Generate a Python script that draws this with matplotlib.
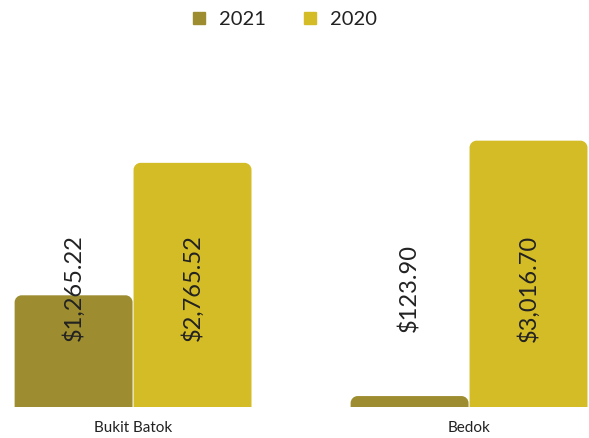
import matplotlib
matplotlib.use("Agg")
import matplotlib.pyplot as plt
from matplotlib.path import Path
from matplotlib.patches import PathPatch
from matplotlib.lines import Line2D
from matplotlib.transforms import blended_transform_factory
import numpy as np

categories = ["Bukit Batok", "Bedok"]
series_names = ["2021", "2020"]
values_2021 = [1265.22, 123.90]
values_2020 = [2765.52, 3016.70]
colors = ["#9d8d30", "#d4bc27"]

plt.rcParams["font.family"] = ["Lato", "DejaVu Sans"]

W, H, DPI = 589, 438, 100
fig = plt.figure(figsize=(W / DPI, H / DPI), dpi=DPI)

# axes fill the figure width; baseline near the bottom
bottom_px, top_px = 407, 98
ax = fig.add_axes([0, (H - bottom_px) / H, 1, (bottom_px - top_px) / H])
ymax = 3500
ax.set_ylim(0, ymax)
ax.set_xlim(-0.396, 1.357)

x = np.arange(len(categories))
bw = 0.351
gap = 0.003
offsets = [-(bw + gap) / 2, (bw + gap) / 2]
series = [values_2021, values_2020]


def rounded_top(x0, w, h, rx, ry):
    ry = min(ry, h)
    k = 0.5523
    verts = [
        (x0, 0), (x0, h - ry),
        (x0, h - ry + k * ry), (x0 + rx - k * rx, h), (x0 + rx, h),
        (x0 + w - rx, h),
        (x0 + w - rx + k * rx, h), (x0 + w, h - ry + k * ry), (x0 + w, h - ry),
        (x0 + w, 0), (x0, 0),
    ]
    codes = [Path.MOVETO, Path.LINETO,
             Path.CURVE4, Path.CURVE4, Path.CURVE4,
             Path.LINETO,
             Path.CURVE4, Path.CURVE4, Path.CURVE4,
             Path.LINETO, Path.CLOSEPOLY]
    return Path(verts, codes)


px_per_x = W / (1.357 + 0.396)
px_per_y = (bottom_px - top_px) / ymax
r_px = 7
rx, ry = r_px / px_per_x, r_px / px_per_y

label_tr = blended_transform_factory(ax.transData, ax.transAxes)
for vals, off, col in zip(series, offsets, colors):
    bars = ax.bar(x + off, vals, width=bw, color=col)
    for b, v in zip(bars, vals):
        b.set_visible(False)
        ax.add_patch(PathPatch(rounded_top(b.get_x(), b.get_width(), v, rx, ry),
                               facecolor=col, edgecolor="none"))
        ax.text(b.get_x() + b.get_width() / 2, 0.385, f"${v:,.2f}",
                transform=label_tr, rotation=90, ha="center", va="center",
                fontsize=17, color="#222222")

ax.set_xticks(x)
ax.set_xticklabels(categories, fontsize=11, color="#222222")
ax.tick_params(axis="x", length=0, pad=10)
ax.set_yticks([])
for s in ax.spines.values():
    s.set_visible(False)

handles = [Line2D([], [], marker="s", linestyle="none", markersize=8,
                  markerfacecolor=c, markeredgecolor=c) for c in colors]
fig.legend(handles, series_names, loc="upper center", ncol=2, frameon=False,
           bbox_to_anchor=(0.472, 1.017), fontsize=14.5, handletextpad=0.0,
           columnspacing=1.15, labelcolor="#222222")

fig.savefig("out.png", dpi=DPI)
